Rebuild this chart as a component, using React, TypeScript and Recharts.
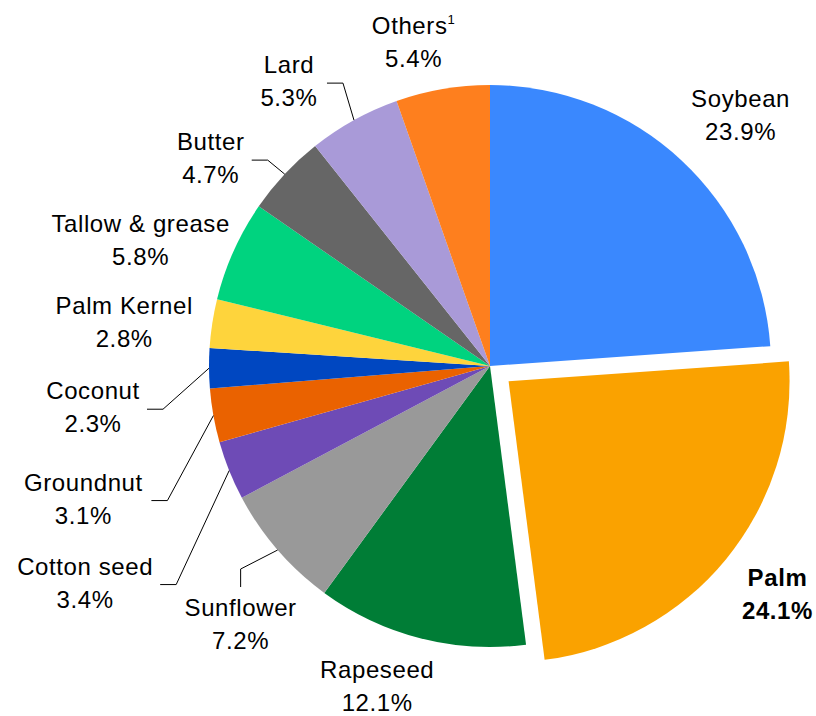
import React from "react";
import { Cell, Pie, PieChart } from "recharts";

const categories = [
  "Soybean",
  "Palm",
  "Rapeseed",
  "Sunflower",
  "Cotton seed",
  "Groundnut",
  "Coconut",
  "Palm Kernel",
  "Tallow & grease",
  "Butter",
  "Lard",
  "Others",
];
const shares = [23.9, 24.1, 12.1, 7.2, 3.4, 3.1, 2.3, 2.8, 5.8, 4.7, 5.3, 5.4];
const colors = [
  "#3A88FE", "#FAA200", "#007D36", "#999999", "#6E4BB6", "#EA6200",
  "#0047C1", "#FED43C", "#00D37F", "#666666", "#A99AD8", "#FE7F1E",
];

const data = categories.map((name, i) => ({ name, value: shares[i] }));

const FONT = "'Liberation Sans', Arial, sans-serif";
const RADIAN = Math.PI / 180;
const CX = 490;
const CY = 366;
const R = 281;
const EXPLODE = 24;
const EXPLODED = "Palm";

// label offsets from the slice's outer edge at its mid angle
const LABEL_LAYOUT: Record<string, { dx: number; dy: number; leader?: "side" | "below"; tail?: number }> = {
  Soybean: { dx: 59, dy: -46 },
  Palm: { dx: 70, dy: 50 },
  Rapeseed: { dx: -43, dy: 48 },
  Sunflower: { dx: -37, dy: 74, leader: "below" },
  "Cotton seed": { dx: -144, dy: 112, leader: "side", tail: 75 },
  Groundnut: { dx: -130, dy: 83, leader: "side", tail: 68 },
  Coconut: { dx: -116, dy: 39, leader: "side", tail: 54 },
  "Palm Kernel": { dx: -88, dy: -1 },
  "Tallow & grease": { dx: -93, dy: -11 },
  Butter: { dx: -74, dy: -16, leader: "side", tail: 41 },
  Lard: { dx: -65, dy: -39, leader: "side", tail: 38 },
  Others: { dx: -29, dy: -47 },
};

const total = shares.reduce((a, b) => a + b, 0);
const explodedIdx = categories.indexOf(EXPLODED);
const before = shares.slice(0, explodedIdx).reduce((a, b) => a + b, 0);
const explodeMid = ((before + shares[explodedIdx] / 2) / total) * 360;
const explodeDx = EXPLODE * Math.sin(explodeMid * RADIAN);
const explodeDy = -EXPLODE * Math.cos(explodeMid * RADIAN);

const renderLabel = (props: any) => {
  const { cx, cy, midAngle, outerRadius, index } = props;
  const name = categories[index];
  const value = shares[index];
  const layout = LABEL_LAYOUT[name];
  const ex = cx + outerRadius * Math.cos(-midAngle * RADIAN);
  const ey = cy + outerRadius * Math.sin(-midAngle * RADIAN);
  const lx = ex + layout.dx;
  const ly = ey + layout.dy;
  const bold = name === EXPLODED;
  let line: string | null = null;
  if (layout.leader === "side") {
    const tail = layout.tail ?? 40;
    line = `${ex},${ey} ${lx + tail + 16},${ly + 2} ${lx + tail},${ly + 2}`;
  } else if (layout.leader === "below") {
    line = `${ex},${ey} ${lx},${ly - 55} ${lx},${ly - 37}`;
  }
  return (
    <g key={`label-${index}`}>
      {line && <polyline points={line} fill="none" stroke="#000" strokeWidth={1} />}
      <text
        x={lx}
        y={ly - 16.5 + 8.6}
        textAnchor="middle"
        fontFamily={FONT}
        fontSize={24}
        fontWeight={bold ? "bold" : "normal"}
        letterSpacing={0.6}
        fill="#000"
      >
        {name}
        {name === "Others" && (
          <tspan dy={-10} fontSize={13}>
            1
          </tspan>
        )}
      </text>
      <text
        x={lx}
        y={ly + 16.5 + 8.6}
        textAnchor="middle"
        fontFamily={FONT}
        fontSize={24}
        fontWeight={bold ? "bold" : "normal"}
        letterSpacing={0.6}
        fill="#000"
      >
        {value.toFixed(1)}%
      </text>
    </g>
  );
};

export default function App() {
  return (
    <div style={{ position: "absolute", left: 0, top: 0, background: "#fff" }}>
      <PieChart width={816} height={716} margin={{ top: 0, right: 0, bottom: 0, left: 0 }}>
        <Pie
          data={data}
          dataKey="value"
          nameKey="name"
          cx={CX}
          cy={CY}
          outerRadius={R}
          startAngle={90}
          endAngle={-270}
          stroke="none"
          label={renderLabel}
          labelLine={false}
          isAnimationActive={false}
        >
          {data.map((d, i) => (
            <Cell key={d.name} fill={d.name === EXPLODED ? "none" : colors[i]} />
          ))}
        </Pie>
        <Pie
          data={data}
          dataKey="value"
          nameKey="name"
          cx={CX + explodeDx}
          cy={CY + explodeDy}
          outerRadius={R}
          startAngle={90}
          endAngle={-270}
          stroke="none"
          isAnimationActive={false}
        >
          {data.map((d, i) => (
            <Cell key={d.name} fill={d.name === EXPLODED ? colors[i] : "none"} />
          ))}
        </Pie>
      </PieChart>
    </div>
  );
}
